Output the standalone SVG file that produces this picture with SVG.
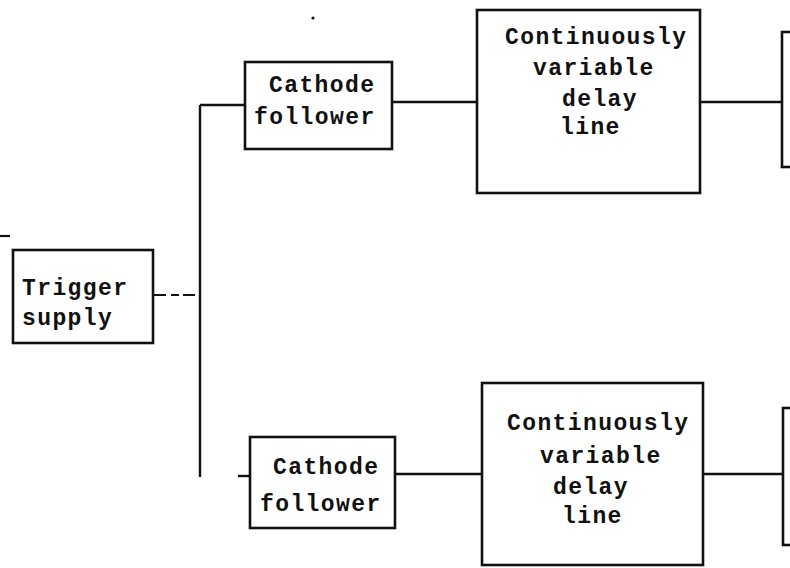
<svg xmlns="http://www.w3.org/2000/svg" width="790" height="568" viewBox="0 0 790 568">
<style>
.box{fill:none;stroke:#111;stroke-width:2.6}
.ln{fill:none;stroke:#111;stroke-width:2.4}
.dash{fill:none;stroke:#111;stroke-width:2.2;stroke-dasharray:12 5 8 4}
.t{font-family:"Liberation Mono","DejaVu Sans Mono",monospace;font-weight:bold;font-size:23px;letter-spacing:1.4px;fill:#111}
</style>
<rect width="790" height="568" fill="#fff"/>
<g id="connectors">
<line class="dash" x1="0" y1="236" x2="10" y2="236" stroke-width="1.2"/>
<line class="dash" x1="154" y1="295" x2="200" y2="295"/>
<line class="ln" x1="200" y1="105" x2="200" y2="477"/>
<line class="ln" x1="200" y1="105" x2="245" y2="105"/>
<line class="ln" x1="392" y1="102" x2="477" y2="102"/>
<line class="ln" x1="700" y1="102" x2="782" y2="102"/>
<line class="ln" x1="238" y1="476" x2="250" y2="476"/>
<line class="ln" x1="395" y1="474" x2="482" y2="474"/>
<line class="ln" x1="703" y1="474" x2="783" y2="474"/>
<circle cx="313" cy="18" r="1.6" fill="#111"/>
</g>
<g id="trigger">
<rect class="box" x="13" y="250" width="140" height="93"/>
<text class="t" x="22" y="295">Trigger</text>
<text class="t" x="22" y="325">supply</text>
</g>
<g id="cathode1">
<rect class="box" x="245" y="62" width="147" height="87"/>
<text class="t" x="269" y="92">Cathode</text>
<text class="t" x="254" y="124">follower</text>
</g>
<g id="delay1">
<rect class="box" x="477" y="10" width="223" height="183"/>
<text class="t" x="505" y="44">Continuously</text>
<text class="t" x="533" y="75">variable</text>
<text class="t" x="562" y="106">delay</text>
<text class="t" x="560" y="134">line</text>
</g>
<g id="out1">
<rect class="box" x="782" y="32" width="30" height="135"/>
</g>
<g id="cathode2">
<rect class="box" x="250" y="437" width="145" height="91"/>
<text class="t" x="273" y="474">Cathode</text>
<text class="t" x="260" y="511">follower</text>
</g>
<g id="delay2">
<rect class="box" x="482" y="383" width="221" height="182"/>
<text class="t" x="507" y="430">Continuously</text>
<text class="t" x="540" y="463">variable</text>
<text class="t" x="553" y="494">delay</text>
<text class="t" x="562" y="523">line</text>
</g>
<g id="out2">
<rect class="box" x="783" y="408" width="30" height="137"/>
</g>
</svg>
